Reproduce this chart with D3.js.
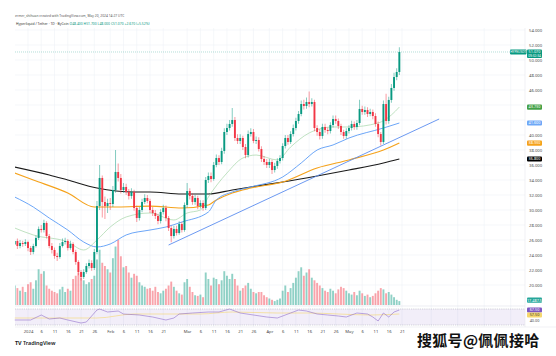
<!DOCTYPE html>
<html>
<head>
<meta charset="utf-8">
<script src="https://cdn.jsdelivr.net/npm/d3@7"></script>
<style>
  body { margin: 0; background: #fff; }
  svg { display: block; font-family: "Noto Sans", "DejaVu Sans", sans-serif; }
</style>
</head>
<body>
<svg id="chart" width="556" height="356"></svg>
<script>
// daily candles, Dec 27 2023 .. May 20 2024 (open = previous close)
const firstDay = "2023-12-27";
const firstOpen = 25.4;
const closes = [
  25.87,25.20,25.60,25.47,25.73,24.93,24.40,25.20,26.27,27.47,
  27.33,28.27,26.53,25.20,24.67,23.87,23.73,25.20,25.73,25.87,
  24.93,25.47,24.40,23.07,21.73,21.07,21.73,22.53,22.93,22.27,
  24.40,30.53,34.27,31.07,30.53,30.93,30.80,32.67,35.07,34.27,
  32.67,33.07,32.40,31.87,32.40,30.27,28.93,30.00,31.07,31.60,
  31.20,30.00,29.60,29.20,28.53,29.73,30.27,28.93,27.60,26.53,
  27.47,26.93,28.13,27.33,30.67,32.53,31.87,31.07,31.60,30.53,
  30.93,30.27,34.00,34.53,34.13,36.00,36.93,36.40,37.87,40.40,
  40.93,41.47,42.00,39.60,39.20,39.60,38.40,37.33,40.13,40.40,
  39.20,39.33,38.13,36.80,36.40,36.00,36.40,35.33,35.87,36.53,
  36.93,38.53,39.60,39.07,40.13,40.93,41.87,42.80,44.13,43.87,
  44.40,44.13,44.40,40.93,40.40,39.87,41.07,40.67,40.53,41.33,
  42.13,41.87,41.20,40.40,39.87,40.53,40.93,41.47,41.07,41.60,
  43.47,43.07,43.33,42.80,43.07,42.53,41.47,40.13,39.07,44.13,
  41.87,44.67,46.27,47.73,48.40,51.07
];
const highs = [
  26.3,26.2,26.0,25.9,26.1,25.9,25.2,25.5,26.6,27.8,
  28.0,28.7,28.5,26.8,25.6,25.0,24.3,25.6,26.2,26.3,
  26.1,25.9,25.7,24.7,23.3,22.0,22.1,22.9,23.4,23.3,
  24.8,31.2,36.0,34.6,31.8,31.5,31.6,33.2,38.0,36.2,
  34.8,33.6,33.5,32.8,32.9,32.7,30.6,30.4,31.5,32.1,
  32.0,31.5,30.4,30.0,29.5,30.1,30.7,30.6,29.2,27.9,
  27.9,27.9,28.5,28.4,31.0,33.6,32.9,32.2,32.0,31.9,
  31.3,31.3,34.4,35.0,35.0,36.4,37.4,37.3,38.3,40.9,
  41.5,42.0,43.6,42.4,40.1,40.1,39.9,38.8,40.6,40.9,
  40.8,39.8,39.7,38.5,37.2,36.8,36.8,36.7,36.3,36.9,
  37.3,38.9,40.0,40.0,40.5,41.4,42.3,43.2,44.6,44.7,
  45.0,45.8,44.9,44.7,41.3,40.8,41.5,41.5,41.0,41.7,
  42.6,42.6,42.2,41.5,40.7,40.9,41.3,41.9,41.8,42.0,
  44.7,43.9,43.8,43.7,43.5,43.4,42.9,41.8,40.4,44.6,
  45.5,45.1,46.8,48.3,48.9,51.7
];
const lows = [
  25.0,24.8,24.9,25.1,25.2,24.5,24.0,24.1,25.0,26.0,
  27.0,27.0,26.2,24.9,24.2,23.5,23.2,23.5,25.0,25.4,
  24.6,24.7,24.1,22.7,21.3,20.6,20.8,21.5,22.2,21.9,
  22.0,24.1,30.0,29.0,28.8,29.6,30.0,30.4,32.3,33.8,
  32.2,32.3,32.0,31.4,31.5,29.9,28.4,28.6,29.7,30.8,
  30.9,29.6,29.2,28.8,28.1,28.2,29.4,28.5,27.2,25.7,
  26.2,26.6,26.7,27.0,27.1,30.3,31.4,30.7,30.7,30.1,
  30.2,29.9,30.0,33.6,33.7,33.9,35.7,36.0,36.1,37.5,
  40.0,40.6,41.1,39.2,38.8,38.8,38.0,36.9,37.0,39.8,
  38.9,38.8,37.8,36.4,36.0,35.6,35.6,34.8,35.0,35.5,
  36.2,36.6,38.2,38.7,38.8,39.8,40.6,41.5,42.5,43.4,
  43.5,43.7,43.8,40.5,39.9,39.4,39.5,40.3,40.1,40.2,
  41.0,41.5,40.8,40.0,39.5,39.5,40.2,40.6,40.7,40.7,
  41.3,42.7,42.7,42.4,42.5,42.1,41.1,39.7,38.6,38.8,
  41.4,41.5,44.3,45.9,47.3,48.0
];
const volumes = [
  30,26,22,28,20,32,35,25,38,55,48,52,30,25,22,20,18,24,28,20,
  25,22,40,45,50,42,38,32,35,40,45,70,85,65,60,55,50,72,90,100,
  75,58,60,50,42,48,45,35,30,28,25,26,22,28,20,18,22,25,30,36,
  28,22,18,16,35,40,28,20,15,14,16,12,50,40,30,42,40,32,38,52,
  45,40,48,40,30,22,26,30,34,25,20,18,20,20,15,12,10,8,6,8,
  10,22,30,20,26,34,42,52,58,45,50,55,42,38,34,30,26,22,20,25,
  22,18,24,28,26,22,18,16,20,15,22,18,14,16,12,14,18,22,26,24,
  18,20,16,12,8,6
];

// moving averages: [day index, value]
const sma20 = [[0,27.60],[7,26.67],[20,25.73],[26,24.67],[31,26.00],[36,27.73],[42,29.07],[51,29.60],
  [60,28.67],[65,29.60],[70,30.00],[73,31.73],[80,34.93],[86,36.93],[91,37.33],[99,36.67],[104,38.40],
  [111,40.27],[120,41.07],[126,41.07],[137,41.60],[142,42.67],[145,43.73]];
const sma50 = [[0,31.73],[7,30.40],[13,28.93],[20,27.33],[26,25.73],[31,25.07],[36,25.47],[42,26.67],
  [51,27.33],[57,27.73],[63,28.40],[73,29.73],[76,31.33],[82,32.40],[89,33.07],[101,34.40],[108,36.27],
  [114,38.00],[120,38.67],[126,39.60],[139,40.93],[145,41.60]];
const sma100 = [[0,34.93],[7,34.00],[20,32.27],[30,30.40],[39,30.40],[51,30.53],[63,30.27],[73,30.67],
  [76,31.33],[82,32.27],[89,32.93],[101,33.73],[114,35.60],[126,36.67],[139,38.00],[145,38.93]];
const sma200 = [[0,35.73],[13,34.67],[20,34.00],[31,32.93],[45,32.40],[51,32.40],[63,32.13],[73,32.13],
  [82,32.67],[89,33.07],[101,33.73],[114,34.53],[126,35.33],[139,36.27],[145,36.80]];
const trendLine = [[58,25.33],[160,42.13]];

const rsi = [[0,42.5],[6,42.5],[10,55],[13,45],[17,47.5],[20,42.5],[25,35],[27,37.5],[31,67.5],[32,70],
  [35,62.5],[39,65],[41,57.5],[47,55],[52,50],[57,42.5],[60,47.5],[62,57.5],[67,60],[73,62.5],[77,62.5],
  [81,70],[85,60],[90,55],[95,50],[99,47.5],[104,60],[107,67.5],[110,65],[114,57.5],[118,55],[122,52.5],
  [125,50],[129,60],[133,57.5],[135,50],[137,40],[139,60],[141,50],[143,62.5],[145,67.5]];
const rsiMa = [[0,47.5],[31,47.5],[45,57.5],[70,57.5],[82,62.5],[99,60],[111,60],[122,57.5],[134,55],[145,57.5]];

const priceTicks = [20,22,24,26,28,30,32,34,36,38,40,42,44,46,48,50,52,54];
const xTickDates = ["2024-01-01","2024-01-06","2024-01-11","2024-01-16","2024-01-21","2024-01-26",
  "2024-02-01","2024-02-06","2024-02-11","2024-02-16","2024-02-21","2024-03-01","2024-03-06","2024-03-11",
  "2024-03-16","2024-03-21","2024-03-26","2024-04-01","2024-04-06","2024-04-11","2024-04-16","2024-04-21",
  "2024-04-26","2024-05-01","2024-05-06","2024-05-11","2024-05-16","2024-05-21"];
const xTickLabels = ["2024","6","11","16","21","26","Feb","6","11","16","21","Mar","6","11","16","21","26",
  "Apr","6","11","16","21","26","May","6","11","16","21"];
const extraGridDates = ["2024-06-01","2024-06-11","2024-06-21","2024-07-01"];

const parse = d3.timeParse("%Y-%m-%d");
const day0 = parse(firstDay);
const dateAt = i => d3.timeDay.offset(day0, i);

const candles = closes.map((c, i) => ({
  date: dateAt(i),
  open: i === 0 ? firstOpen : closes[i - 1],
  close: c, high: highs[i], low: lows[i], volume: volumes[i]
}));

const UP = "#089981", DOWN = "#f23645";
const plotL = 15, plotR = 525, mainT = 28, mainB = 306, rsiB = 327;

const svg = d3.select("#chart");
const x = d3.scaleTime().domain([parse("2024-01-01"), parse("2024-05-21")]).range([28, 402]);
const y = d3.scaleLinear().domain([20, 54]).range([285, 30]);
const yVol = d3.scaleLinear().domain([0, 100]).range([305, 240]);
const yRsi = d3.scaleLinear().domain([30, 70]).range([325, 309]);
const bw = 1.9;
const f3 = d3.format(".3f");
const lastOf = a => a[a.length - 1][1];
const last = candles[candles.length - 1];

svg.append("rect").attr("width", 556).attr("height", 356).attr("fill", "#fff");

// header
svg.append("text").attr("x", 15).attr("y", 17).attr("font-size", 3.3).attr("fill", "#555")
  .text("ermer_shihuan created with TradingView.com, May 20, 2024 14:27 UTC");
const chg = last.close - last.open;
const hdr = svg.append("text").attr("x", 16).attr("y", 24.5).attr("font-size", 3.4).attr("fill", "#333");
hdr.append("tspan").text("Hyperliquid / Tether · 1D · ByCoin  ");
hdr.append("tspan").attr("fill", UP)
  .text(`O${f3(last.open)} H${f3(last.high)} L${f3(last.low)} C${f3(last.close)} +${f3(chg)} (+${d3.format(".2f")(chg / last.open * 100)}%)`);

// grid
const grid = svg.append("g").attr("stroke", "#eef1f7").attr("stroke-width", 0.6);
grid.selectAll(".h").data(priceTicks).join("line")
  .attr("x1", plotL).attr("x2", plotR).attr("y1", d => y(d)).attr("y2", d => y(d));
grid.selectAll(".v").data(xTickDates.concat(extraGridDates)).join("line")
  .attr("x1", d => x(parse(d))).attr("x2", d => x(parse(d))).attr("y1", mainT).attr("y2", rsiB);

svg.append("defs").append("clipPath").attr("id", "main")
  .append("rect").attr("x", plotL).attr("y", mainT).attr("width", plotR - plotL).attr("height", mainB - mainT);
const main = svg.append("g").attr("clip-path", "url(#main)");

// volume
main.selectAll(".vol").data(candles).join("rect")
  .attr("x", d => x(d.date) - bw / 2).attr("width", bw)
  .attr("y", d => yVol(d.volume)).attr("height", d => yVol(0) - yVol(d.volume))
  .attr("fill", d => d.close >= d.open ? UP : DOWN).attr("opacity", 0.45);

// current price line
main.append("line").attr("x1", plotL).attr("x2", plotR).attr("y1", y(last.close)).attr("y2", y(last.close))
  .attr("stroke", UP).attr("stroke-width", 0.5).attr("stroke-dasharray", "1,1").attr("opacity", 0.6);

// moving averages
const maLine = d3.line().x(d => x(dateAt(d[0]))).y(d => y(d[1])).curve(d3.curveMonotoneX);
[[sma200, "#1a1a1a", 1.1], [sma100, "#f5a21b", 1.2], [sma50, "#5b9cf6", 0.9], [sma20, "#a5d6a7", 0.7]]
  .forEach(([data, color, w]) => {
    main.append("path").datum(data).attr("d", maLine).attr("fill", "none")
      .attr("stroke", color).attr("stroke-width", w);
  });
main.append("path").datum(trendLine).attr("d", d3.line().x(d => x(dateAt(d[0]))).y(d => y(d[1])))
  .attr("fill", "none").attr("stroke", "#5b8def").attr("stroke-width", 0.9);

// candles
const cg = main.selectAll(".c").data(candles).join("g")
  .attr("fill", d => d.close >= d.open ? UP : DOWN).attr("stroke", d => d.close >= d.open ? UP : DOWN);
cg.append("line").attr("x1", d => x(d.date)).attr("x2", d => x(d.date))
  .attr("y1", d => y(d.high)).attr("y2", d => y(d.low)).attr("stroke-width", 0.5);
cg.append("rect").attr("x", d => x(d.date) - bw / 2).attr("width", bw).attr("stroke", "none")
  .attr("y", d => y(Math.max(d.open, d.close)))
  .attr("height", d => Math.max(0.6, Math.abs(y(d.open) - y(d.close))));

// RSI pane
svg.append("line").attr("x1", plotL).attr("x2", plotR).attr("y1", mainB).attr("y2", mainB)
  .attr("stroke", "#e0e3eb").attr("stroke-width", 0.6);
svg.append("rect").attr("x", plotL).attr("width", plotR - plotL)
  .attr("y", yRsi(70)).attr("height", yRsi(30) - yRsi(70)).attr("fill", "rgba(126,87,194,0.1)");
[70, 30].forEach(v => svg.append("line").attr("x1", plotL).attr("x2", plotR)
  .attr("y1", yRsi(v)).attr("y2", yRsi(v)).attr("stroke", "#9598a1").attr("stroke-width", 0.4)
  .attr("stroke-dasharray", "1.2,1"));
svg.append("path").datum(rsiMa)
  .attr("d", d3.line().x(d => x(dateAt(d[0]))).y(d => yRsi(d[1])).curve(d3.curveMonotoneX))
  .attr("fill", "none").attr("stroke", "#f5d76e").attr("stroke-width", 0.6);
svg.append("path").datum(rsi).attr("d", d3.line().x(d => x(dateAt(d[0]))).y(d => yRsi(d[1])))
  .attr("fill", "none").attr("stroke", "#7e57c2").attr("stroke-width", 0.5);

// tag positions on the price scale (tick labels under a tag are hidden, as TradingView does)
const tagYs = [y(last.close), y(lastOf(sma20)), y(lastOf(sma50)), y(lastOf(sma100)), y(lastOf(sma200))];

// axes
const yAxis = svg.append("g").attr("transform", `translate(${plotR},0)`)
  .call(d3.axisRight(y).tickValues(priceTicks).tickSize(0).tickPadding(4).tickFormat(f3));
yAxis.select(".domain").attr("stroke", "#e0e3eb").attr("stroke-width", 0.5)
  .attr("d", `M0,${mainT}V${rsiB}`);
yAxis.selectAll(".tick").filter(d => tagYs.some(t => Math.abs(t - y(d)) < 5.5)).remove();
yAxis.selectAll("text").attr("font-size", 4.2).attr("fill", "#4a4a4a").attr("font-family", "Noto Sans");

const xAxis = svg.append("g").attr("transform", `translate(0,${rsiB})`)
  .call(d3.axisBottom(x).tickValues(xTickDates.map(parse)).tickSize(0).tickPadding(3.5)
    .tickFormat((d, i) => xTickLabels[i]));
xAxis.select(".domain").attr("stroke", "#e0e3eb").attr("stroke-width", 0.5).attr("d", `M${plotL},0H556`);
xAxis.selectAll("text").attr("font-size", 4.2).attr("fill", "#4a4a4a").attr("font-family", "Noto Sans");

// right-side tags
function tag(yPos, text, bg, fg) {
  svg.append("rect").attr("x", plotR + 2).attr("y", yPos - 2.6).attr("width", 15).attr("height", 5.2)
    .attr("rx", 1).attr("fill", bg);
  svg.append("text").attr("x", plotR + 9.5).attr("y", yPos + 1.4).attr("text-anchor", "middle")
    .attr("font-size", 3.8).attr("fill", fg).text(text);
}
tag(y(lastOf(sma20)), f3(lastOf(sma20)), "#43a047", "#fff");
tag(y(lastOf(sma50)), f3(lastOf(sma50)), "#6ea8f7", "#fff");
tag(y(lastOf(sma100)), f3(lastOf(sma100)), "#f5a21b", "#fff");
tag(y(lastOf(sma200)), f3(lastOf(sma200)), "#000", "#fff");
tag(yVol(last.volume) - 1, "17.487.5", "#26a69a", "#fff");
tag(yRsi(lastOf(rsi)), d3.format(".2f")(lastOf(rsi)), "#7e57c2", "#fff");
tag(yRsi(lastOf(rsiMa)) + 1, d3.format(".2f")(lastOf(rsiMa)), "#f5d76e", "#333");
svg.append("text").attr("x", plotR + 9.5).attr("y", yRsi(40) + 1.4).attr("text-anchor", "middle")
  .attr("font-size", 3.8).attr("fill", "#4a4a4a").text("40.00");

// last price tag with countdown
const py = y(last.close);
svg.append("rect").attr("x", plotR + 2).attr("y", py - 2.6).attr("width", 15).attr("height", 8.6)
  .attr("rx", 1).attr("fill", UP);
svg.append("text").attr("x", plotR + 9.5).attr("y", py + 1.4).attr("text-anchor", "middle")
  .attr("font-size", 3.8).attr("fill", "#fff").text(f3(last.close));
svg.append("text").attr("x", plotR + 9.5).attr("y", py + 5.2).attr("text-anchor", "middle")
  .attr("font-size", 3.2).attr("fill", "#fff").text("09:32:34");
svg.append("rect").attr("x", plotR - 15).attr("y", py - 2.4).attr("width", 16.5).attr("height", 4.8)
  .attr("rx", 0.8).attr("fill", UP);
svg.append("text").attr("x", plotR - 6.8).attr("y", py + 1.2).attr("text-anchor", "middle")
  .attr("font-size", 3.2).attr("fill", "#fff").text("HYPEUSDT");

// footer logo
const logo = svg.append("text").attr("x", 15).attr("y", 345).attr("font-size", 5.4).attr("fill", "#131722");
logo.append("tspan").attr("font-weight", "bold").text("TV ");
logo.append("tspan").attr("font-weight", 600).text("TradingView");

// watermark
svg.append("text").attr("x", 417).attr("y", 346)
  .attr("font-family", "Noto Sans CJK SC").attr("font-size", 15).attr("font-weight", "bold")
  .attr("fill", "#111").attr("stroke", "#fff").attr("stroke-width", 2.4).attr("paint-order", "stroke")
  .attr("letter-spacing", 0.3).text("搜狐号@佩佩接哈");
</script>
</body>
</html>
